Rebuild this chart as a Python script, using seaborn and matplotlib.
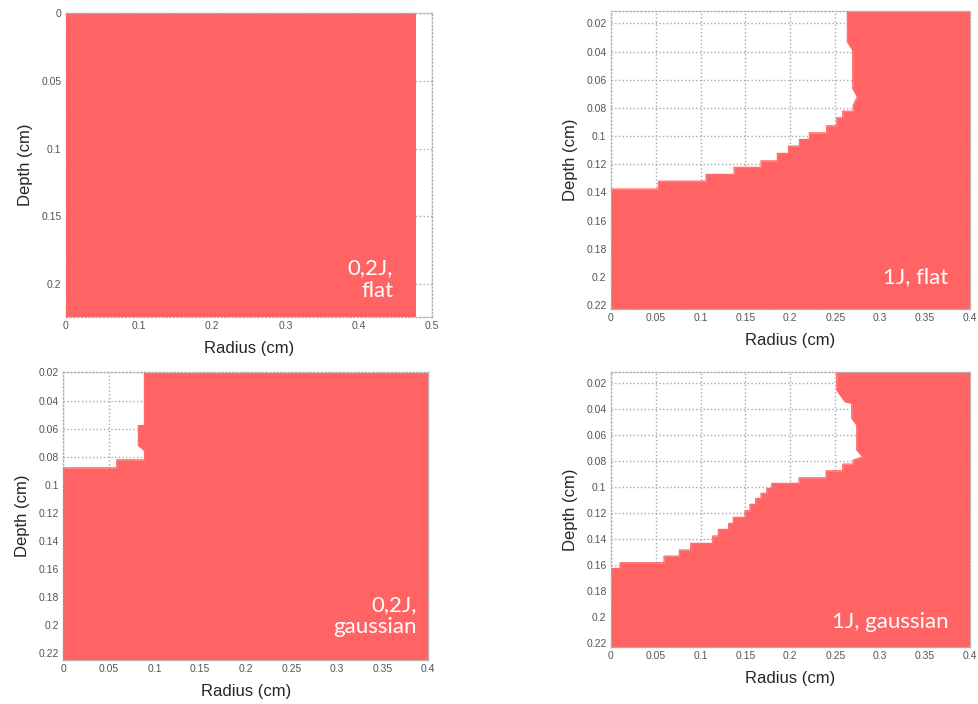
import matplotlib
matplotlib.use("Agg")
import matplotlib.pyplot as plt
import seaborn as sns
from matplotlib.ticker import FormatStrFormatter

sns.set_style("white")
plt.rcParams["font.family"] = ["Liberation Sans", "DejaVu Sans"]

RED = "#ff6363"

# Damage front: radius (cm) of the ablation boundary at each depth (cm).
# Material to the right of the boundary (up to the outer radius) is shaded.
flat02_depth = [0.0, 0.224]
flat02_radius = [0.0, 0.0]
flat02_outer = 0.478

flat1_depth = [0.011, 0.0331, 0.039, 0.0662, 0.0721, 0.0780, 0.0823,
               0.0823, 0.0870, 0.0870, 0.0927, 0.0927, 0.0977, 0.0977,
               0.1024, 0.1024, 0.1071, 0.1071, 0.1123, 0.1123, 0.1176,
               0.1176, 0.1222, 0.1222, 0.1272, 0.1272, 0.1320, 0.1320,
               0.1376, 0.1376, 0.223]
flat1_radius = [0.2634, 0.2634, 0.2694, 0.2694, 0.2745, 0.2700, 0.2700,
                0.2583, 0.2583, 0.2516, 0.2516, 0.2404, 0.2404, 0.2211,
                0.2211, 0.2100, 0.2100, 0.1978, 0.1978, 0.1855, 0.1855,
                0.1673, 0.1673, 0.1373, 0.1373, 0.1061, 0.1061, 0.0530,
                0.0530, 0.0, 0.0]
flat1_outer = 0.4

gauss02_depth = [0.02, 0.0578, 0.0578, 0.0720, 0.0757, 0.0822, 0.0822,
                 0.0879, 0.0879, 0.2247]
gauss02_radius = [0.0888, 0.0888, 0.0822, 0.0822, 0.0888, 0.0888, 0.0585,
                  0.0585, 0.0, 0.0]
gauss02_outer = 0.4

gauss1_depth = [0.011, 0.0252, 0.0342, 0.0354, 0.0470, 0.0522, 0.0714,
                0.0766, 0.0792, 0.0822, 0.0822, 0.0874, 0.0874, 0.0928,
                0.0928, 0.0971, 0.0971, 0.1010, 0.1010, 0.1048, 0.1048,
                0.1087, 0.1087, 0.1133, 0.1133, 0.1182, 0.1182, 0.1233,
                0.1233, 0.1280, 0.1280, 0.1326, 0.1326, 0.1377, 0.1377,
                0.1434, 0.1434, 0.1485, 0.1485, 0.1532, 0.1532, 0.1583,
                0.1583, 0.1627, 0.1627, 0.2236]
gauss1_radius = [0.2516, 0.2516, 0.2608, 0.2683, 0.2683, 0.2739, 0.2739,
                 0.2806, 0.2700, 0.2700, 0.2583, 0.2583, 0.2397, 0.2397,
                 0.2096, 0.2096, 0.1792, 0.1792, 0.1737, 0.1737, 0.1673,
                 0.1673, 0.1614, 0.1614, 0.1550, 0.1550, 0.1495, 0.1495,
                 0.1365, 0.1365, 0.1313, 0.1313, 0.1198, 0.1198, 0.1135,
                 0.1135, 0.0890, 0.0890, 0.0764, 0.0764, 0.0593, 0.0593,
                 0.0104, 0.0104, 0.0, 0.0]
gauss1_outer = 0.4

panel_labels = ["0,2J,\nflat", "1J, flat", "0,2J,\ngaussian", "1J, gaussian"]

fig = plt.figure(figsize=(9.79, 7.04), dpi=100)

panels = [
    dict(rect=[0.0671, 0.5497, 0.3742, 0.4322], depth=flat02_depth,
         radius=flat02_radius, outer=flat02_outer, xlim=(0, 0.5),
         ylim=(0.224, 0.0), xticks=[0, 0.1, 0.2, 0.3, 0.4, 0.5],
         yticks=[0, 0.05, 0.1, 0.15, 0.2], label=panel_labels[0],
         text_xy=(0.447, 0.1966)),
    dict(rect=[0.6238, 0.5607, 0.3670, 0.4241], depth=flat1_depth,
         radius=flat1_radius, outer=flat1_outer, xlim=(0, 0.4),
         ylim=(0.223, 0.011), xticks=[0, 0.05, 0.1, 0.15, 0.2, 0.25, 0.3, 0.35, 0.4],
         yticks=[0.02, 0.04, 0.06, 0.08, 0.1, 0.12, 0.14, 0.16, 0.18, 0.2, 0.22],
         label=panel_labels[1], text_xy=(0.3758, 0.1999)),
    dict(rect=[0.0647, 0.0625, 0.3728, 0.4095], depth=gauss02_depth,
         radius=gauss02_radius, outer=gauss02_outer, xlim=(0, 0.4),
         ylim=(0.2247, 0.0195), xticks=[0, 0.05, 0.1, 0.15, 0.2, 0.25, 0.3, 0.35, 0.4],
         yticks=[0.02, 0.04, 0.06, 0.08, 0.1, 0.12, 0.14, 0.16, 0.18, 0.2, 0.22],
         label=panel_labels[2], text_xy=(0.387, 0.1935)),
    dict(rect=[0.6238, 0.0805, 0.3670, 0.3915], depth=gauss1_depth,
         radius=gauss1_radius, outer=gauss1_outer, xlim=(0, 0.4),
         ylim=(0.2236, 0.011), xticks=[0, 0.05, 0.1, 0.15, 0.2, 0.25, 0.3, 0.35, 0.4],
         yticks=[0.02, 0.04, 0.06, 0.08, 0.1, 0.12, 0.14, 0.16, 0.18, 0.2, 0.22],
         label=panel_labels[3], text_xy=(0.3758, 0.2038)),
]

for p in panels:
    ax = fig.add_axes(p["rect"])
    ax.set_xlim(*p["xlim"])
    ax.set_ylim(*p["ylim"])
    ax.set_xticks(p["xticks"])
    ax.set_yticks(p["yticks"])
    ax.xaxis.set_major_formatter(FormatStrFormatter("%g"))
    ax.yaxis.set_major_formatter(FormatStrFormatter("%g"))
    ax.grid(True, color="#a8a8a8", linestyle=":", linewidth=1.0)
    ax.set_axisbelow(True)
    for s in ax.spines.values():
        s.set_visible(True)
        s.set_color("#b0b0b0")
        s.set_linestyle(":")
        s.set_linewidth(1.0)
    ax.tick_params(direction="in", length=3, width=0.8, color="#555555",
                   labelsize=7.5, labelcolor="#555555", pad=3)

    ax.fill_betweenx(p["depth"], p["radius"], p["outer"], color=RED,
                     linewidth=0, zorder=2)
    # outline of the damage front, drawn point by point in the given order
    sns.lineplot(x=p["radius"], y=p["depth"], sort=False, estimator=None,
                 errorbar=None, color=RED, linewidth=0.8, ax=ax, zorder=3)

    ax.set_xlabel("Radius (cm)", fontsize=12, labelpad=7)
    ax.set_ylabel("Depth (cm)", fontsize=12, labelpad=6)

    tx, ty = p["text_xy"]
    ax.text(tx, ty, p["label"], color="white", fontsize=16,
            family=["Lato", "DejaVu Sans"], ha="right", va="center",
            multialignment="right", linespacing=1.15, zorder=4)

fig.savefig("out.png", dpi=100)
